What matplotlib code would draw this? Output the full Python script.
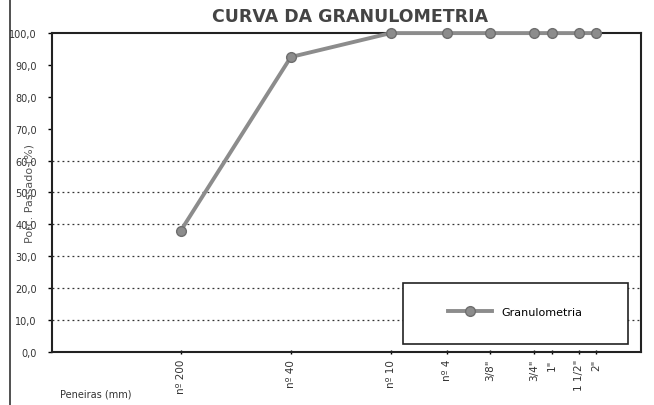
import numpy as np
import matplotlib
matplotlib.use('Agg')
import matplotlib.pyplot as plt
from matplotlib.lines import Line2D
from matplotlib.patches import Rectangle

# sieve openings (mm) and passing percentages
peneiras = ['nº 200', 'nº 40', 'nº 10', 'nº 4', '3/8"', '3/4"', '1"', '1 1/2"', '2"']
abertura_mm = [0.075, 0.42, 2.0, 4.8, 9.5, 19.0, 25.0, 38.0, 50.0]
passante = [38.0, 92.5, 100.0, 100.0, 100.0, 100.0, 100.0, 100.0, 100.0]
y_ticks = [0, 10, 20, 30, 40, 50, 60, 70, 80, 90, 100]
grid_levels = [10, 20, 30, 40, 50, 60]

fig = plt.figure(figsize=(6.54, 4.06), dpi=100)
ax = fig.add_axes([0.0795, 0.131, 0.9, 0.785])

ax.hlines(grid_levels, 0.01, 100, colors='#333333', linestyles=(0, (1.5, 2.5)), linewidth=0.9)
ax.plot(abertura_mm, passante, color='#8c8c8c', linewidth=2.8, marker='o',
        markersize=7, markerfacecolor='#8c8c8c', markeredgecolor='#6e6e6e', zorder=3,
        clip_on=False)

ax.set_xscale('log')
ax.set_xlim(0.01, 100)
ax.set_ylim(0, 100)
ax.set_xticks(abertura_mm)
ax.set_xticklabels(peneiras, rotation=90, fontsize=7.5, color='#333333')
ax.xaxis.set_minor_locator(matplotlib.ticker.NullLocator())
ax.set_yticks(y_ticks)
ax.set_yticklabels([f'{v:.1f}'.replace('.', ',') for v in y_ticks], fontsize=7, color='#333333')
ax.tick_params(axis='x', length=3, width=1, direction='inout')
ax.tick_params(axis='y', length=3, width=1, pad=8)
for s in ax.spines.values():
    s.set_linewidth(1.5)
    s.set_color('#222222')

ax.set_ylabel('Porc. Passado (%)', fontsize=8, color='#555555', labelpad=-18)
fig.text(0.092, 0.022, 'Peneiras (mm)', fontsize=7, color='#333333')
fig.text(0.535, 0.945, 'CURVA DA GRANULOMETRIA', fontsize=12.5, fontweight='bold',
         color='#444444', ha='center')

# legend box
ax.add_patch(Rectangle((0.597, 0.025), 0.381, 0.19, transform=ax.transAxes,
                       facecolor='white', edgecolor='#222222', linewidth=1.2, zorder=4))
handle = Line2D([], [], color='#8c8c8c', linewidth=2.8, marker='o', markersize=7,
                markerfacecolor='#8c8c8c', markeredgecolor='#6e6e6e')
leg = ax.legend([handle], ['Granulometria'], loc='center', bbox_to_anchor=(0.787, 0.125),
                fontsize=8, frameon=False, handlelength=4)
leg.set_zorder(5)

# left border of the scanned sheet
fig.add_artist(Line2D([0.016, 0.016], [0, 1], color='#333333', linewidth=1.2))

fig.savefig('out.png', dpi=100)
